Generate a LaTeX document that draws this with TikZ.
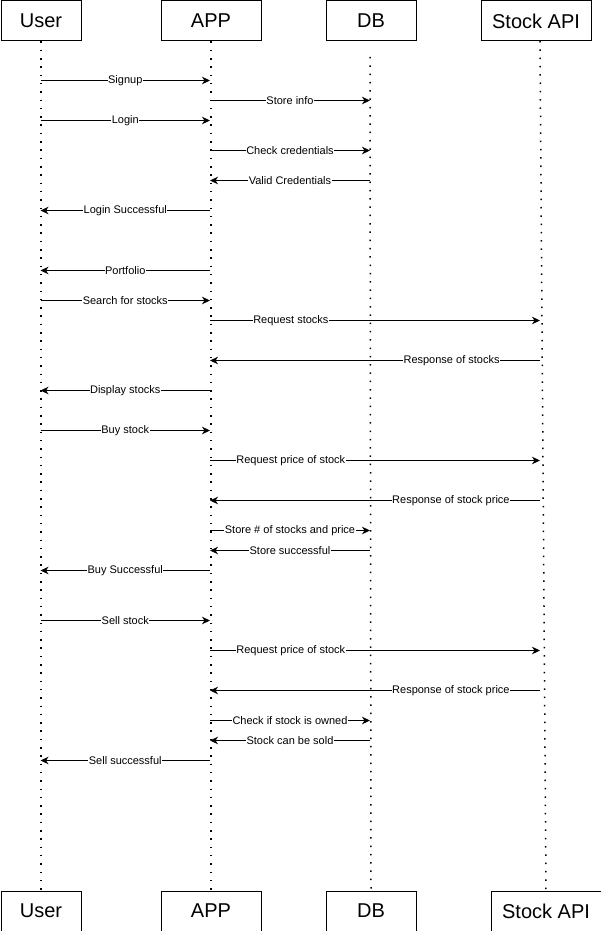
\documentclass[tikz,border=0pt]{standalone}
\usepackage{fontspec}
\setmainfont{Liberation Sans}
\usetikzlibrary{arrows.meta}
\tikzset{
  actor/.style={draw=black, line width=1pt, minimum height=40pt, inner sep=0pt, font=\fontsize{20}{24}\selectfont, anchor=north west},
  lifeline/.style={line width=1.5pt, dash pattern=on 1.5pt off 6.8pt, black},
  msg/.style={line width=1pt, -{Stealth[length=8pt,width=7.5pt,inset=2.5pt]}},
  lbl/.style={fill=white, inner sep=0.5pt, font=\fontsize{11}{13}\selectfont, text=black}
}
\newcommand{\msgline}[5]{%
  \draw[msg] (#1 |- 0,#3) -- (#2 |- 0,#3) node[lbl,pos=#5]{#4};}
\begin{document}
\begin{tikzpicture}[x=1pt,y=-1pt]
\useasboundingbox (0,0) rectangle (601,931);
% top actors
\node[actor, minimum width=80pt] (userT) at (0.5,0.5) {User};
\node[actor, minimum width=100pt] (appT) at (160.5,0.5) {APP};
\node[actor, minimum width=90pt] (dbT) at (325.5,0.5) {DB};
\node[actor, minimum width=110pt] (apiT) at (480.5,0.5) {Stock API};
% bottom actors
\node[actor, minimum width=80pt] (userB) at (0.5,890.5) {User};
\node[actor, minimum width=100pt] (appB) at (160.5,890.5) {APP};
\node[actor, minimum width=90pt] (dbB) at (325.5,890.5) {DB};
\node[actor, minimum width=110pt] (apiB) at (490.5,890.5) {Stock API};
% lifeline x positions
\coordinate (Lu) at (40.5,0);
\coordinate (La) at (210,0);
\coordinate (Ld) at (370,0);
\coordinate (Ls) at (540,0);
\coordinate (dbStart) at (370,57);
\coordinate (apiStart) at (540,41);
% lifelines
\draw[lifeline] (userT.south) -- (userB.north);
\draw[lifeline] (appT.south) -- (appB.north);
\draw[lifeline] (dbStart) -- (dbB.north);
\draw[lifeline] (apiStart) -- (apiB.north);
% messages
\msgline{Lu}{La}{80.5}{Signup}{0.5}
\msgline{La}{Ld}{100.5}{Store info}{0.5}
\msgline{Lu}{La}{120.5}{Login}{0.5}
\msgline{La}{Ld}{150.5}{Check credentials}{0.5}
\msgline{Ld}{La}{180.5}{Valid Credentials}{0.5}
\msgline{La}{Lu}{210.5}{Login Successful}{0.5}
\msgline{La}{Lu}{270.5}{Portfolio}{0.5}
\msgline{Lu}{La}{300.5}{Search for stocks}{0.5}
\msgline{La}{Ls}{320.5}{Request stocks}{0.245}
\msgline{Ls}{La}{360.5}{Response of stocks}{0.268}
\msgline{La}{Lu}{390.5}{Display stocks}{0.5}
\msgline{Lu}{La}{430.5}{Buy stock}{0.5}
\msgline{La}{Ls}{460.5}{Request price of stock}{0.245}
\msgline{Ls}{La}{500.5}{Response of stock price}{0.27}
\msgline{La}{Ld}{530.5}{Store \# of stocks and price}{0.5}
\msgline{Ld}{La}{550.5}{Store successful}{0.5}
\msgline{La}{Lu}{570.5}{Buy Successful}{0.5}
\msgline{Lu}{La}{620.5}{Sell stock}{0.5}
\msgline{La}{Ls}{650.5}{Request price of stock}{0.245}
\msgline{Ls}{La}{690.5}{Response of stock price}{0.27}
\msgline{La}{Ld}{720.5}{Check if stock is owned}{0.5}
\msgline{Ld}{La}{740.5}{Stock can be sold}{0.5}
\msgline{La}{Lu}{760.5}{Sell successful}{0.5}
\end{tikzpicture}
\end{document}
